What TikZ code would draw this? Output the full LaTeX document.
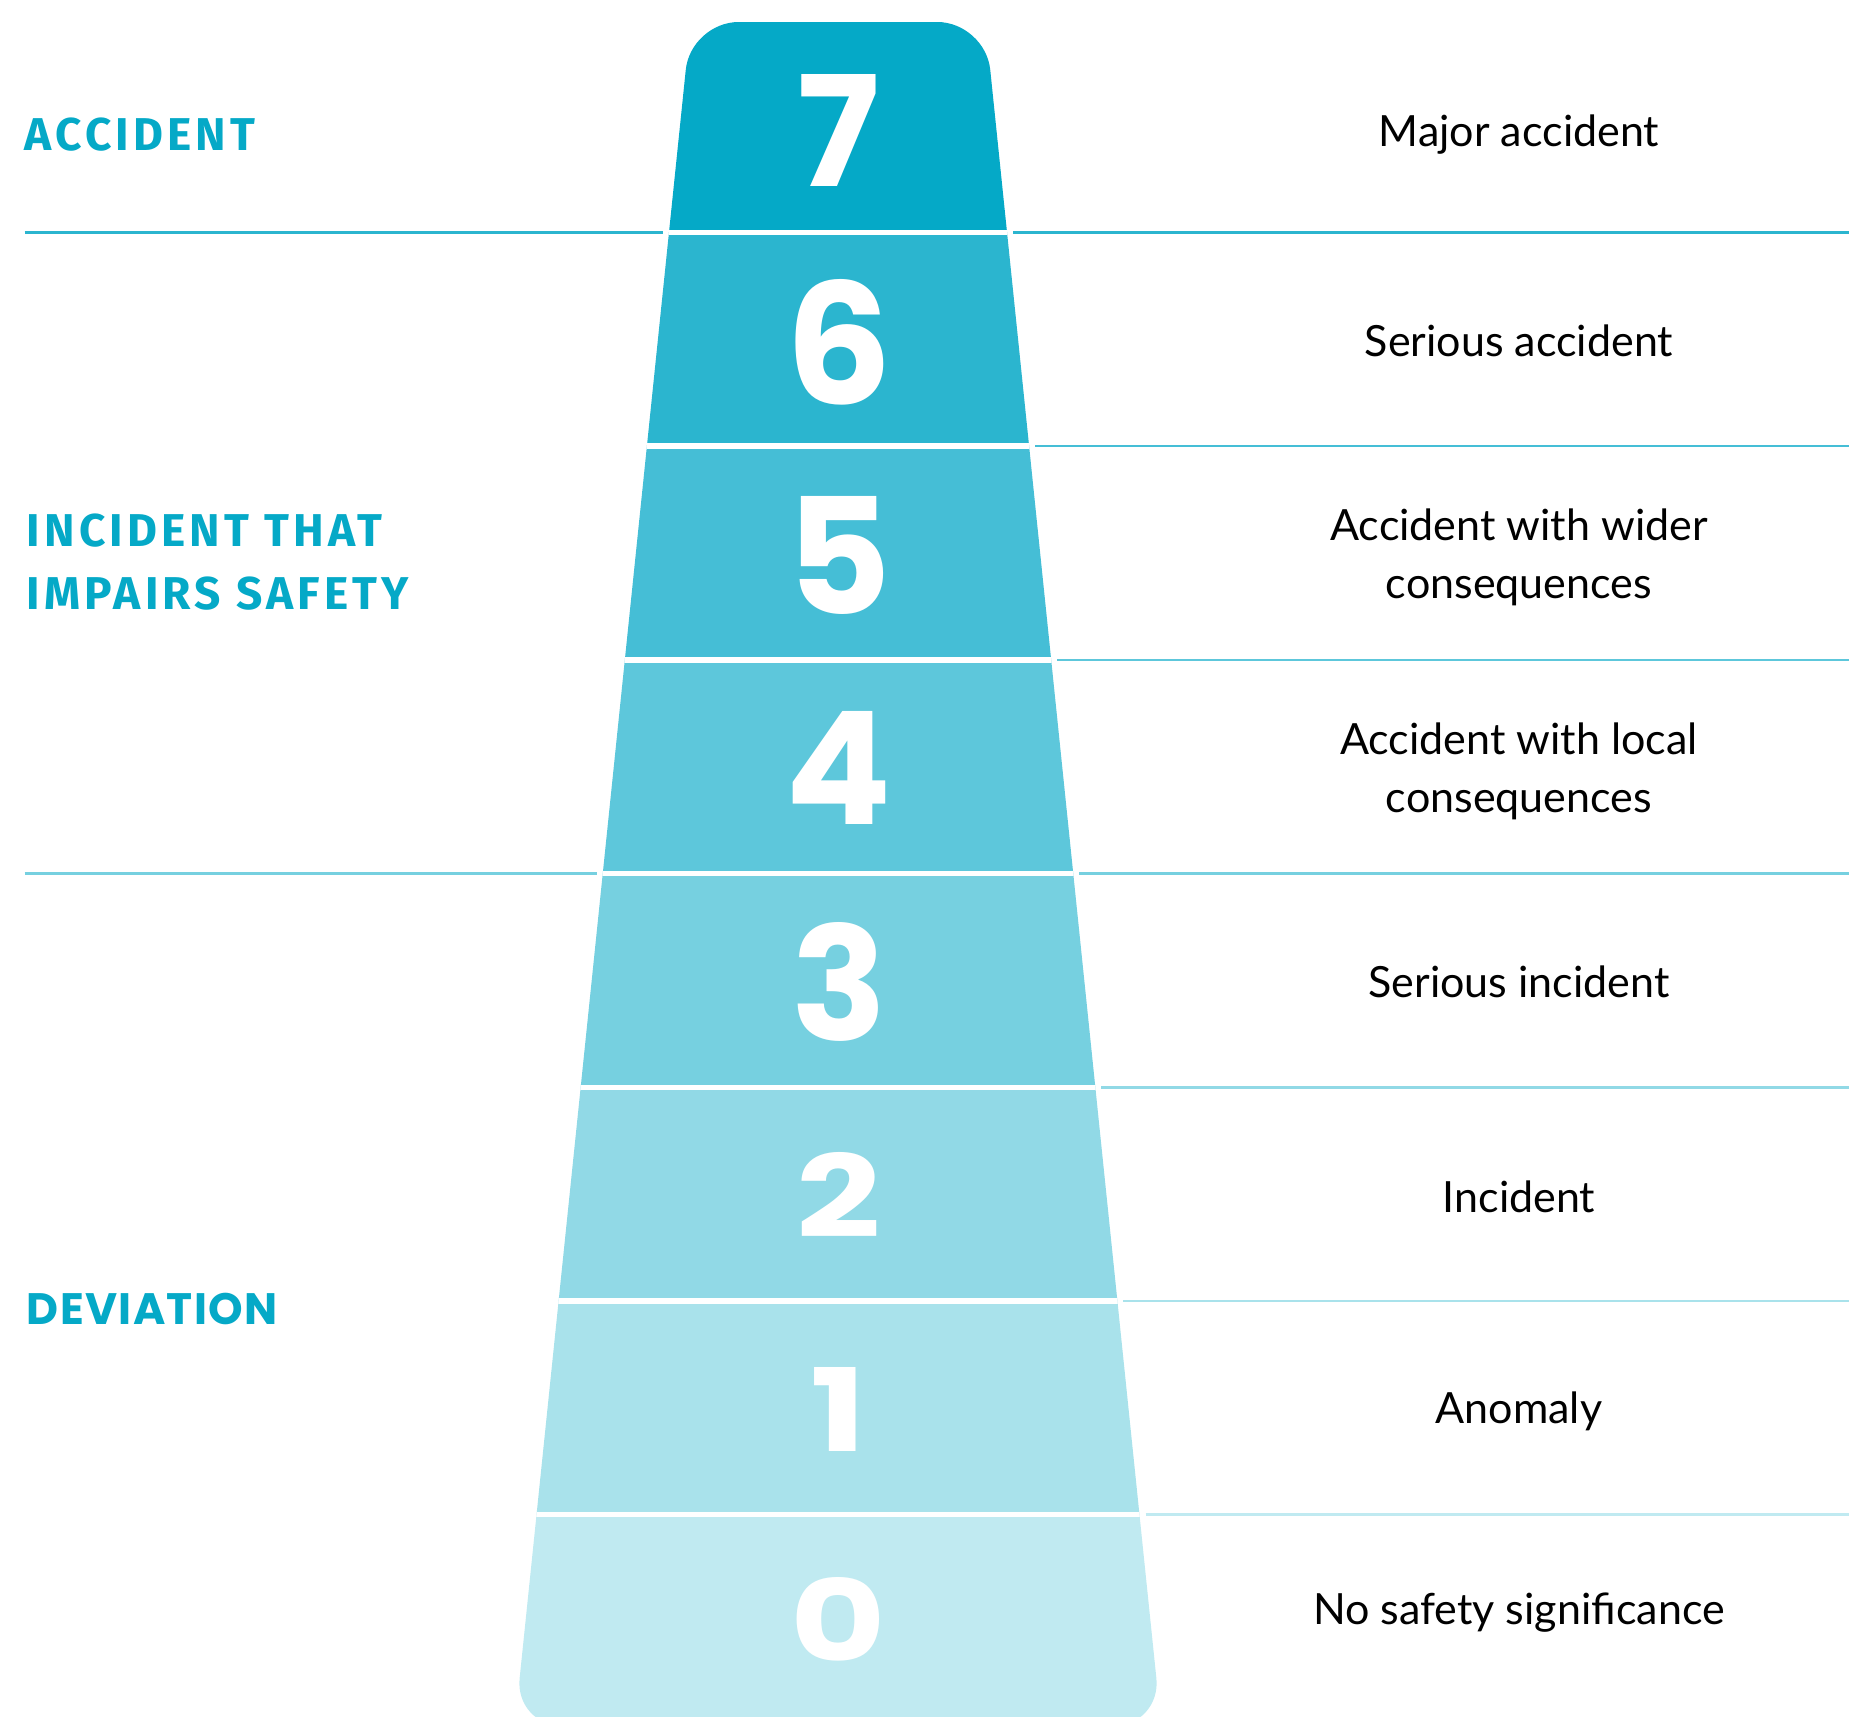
\documentclass[tikz,border=0pt]{standalone}
\usepackage{fontspec}
\usepackage{graphicx}
\setmainfont{Lato}
\newfontfamily\numfont{Poppins}
\newfontfamily\headfont{Fira Sans}[LetterSpace=9]
\newfontfamily\devfont{Poppins}[LetterSpace=3]
\definecolor{c7}{HTML}{05A9C7}
\definecolor{c6}{HTML}{2BB5CF}
\definecolor{c5}{HTML}{45BED6}
\definecolor{c4}{HTML}{5DC7DB}
\definecolor{c3}{HTML}{76D0E0}
\definecolor{c2}{HTML}{91D9E6}
\definecolor{c1}{HTML}{A9E2EB}
\definecolor{c0}{HTML}{C0EAF1}
\begin{document}
\begin{tikzpicture}[x=1pt,y=-1pt,
  num/.style={inner sep=0pt,text=white,font=\numfont\bfseries},
  lab/.style={inner sep=0pt,anchor=base,text=black,font=\fontsize{43}{50}\selectfont},
  head/.style={inner sep=0pt,anchor=base west,text=c7,font=\headfont\bfseries\fontsize{46}{54}\selectfont},
  dev/.style={inner sep=0pt,anchor=base west,text=c7,font=\devfont\bfseries\fontsize{44}{52}\selectfont},
  sep/.style={line width=2.5pt}]
\useasboundingbox (0,0) rectangle (1849,1716);
\begin{scope}
\clip[rounded corners=48pt] (690.7,22) -- (985.3,22) -- (1161.3,1726) -- (514.7,1726) -- cycle;
\fill[c7] (400,0) rectangle (1300,232.5);
\fill[c6] (400,232.5) rectangle (1300,446.2);
\fill[c5] (400,446.2) rectangle (1300,659.9);
\fill[c4] (400,659.9) rectangle (1300,873.6);
\fill[c3] (400,873.6) rectangle (1300,1087.3);
\fill[c2] (400,1087.3) rectangle (1300,1301.0);
\fill[c1] (400,1301.0) rectangle (1300,1514.7);
\fill[c0] (400,1514.7) rectangle (1300,1800);
\foreach \y in {232.5,446.2,659.9,873.6,1087.3,1301.0,1514.7}
  \draw[white,line width=5.5pt] (400,\y) -- (1300,\y);
\end{scope}
% separator lines
\draw[sep,c6] (24.5,232.5) -- (663,232.5);
\draw[sep,c6] (1013,232.5) -- (1849,232.5);
\draw[sep,c5] (1035.1,446.2) -- (1849,446.2);
\draw[sep,c4] (1057.2,659.9) -- (1849,659.9);
\draw[sep,c3] (24.5,873.6) -- (596.8,873.6);
\draw[sep,c3] (1079.2,873.6) -- (1849,873.6);
\draw[sep,c2] (1101.3,1087.3) -- (1849,1087.3);
\draw[sep,c1] (1123.4,1301.0) -- (1849,1301.0);
\draw[sep,c0] (1145.5,1514.7) -- (1849,1514.7);
% numbers
\node[num] (n7) at (839,130) {\resizebox{!}{112pt}{7}};
\node[num] (n6) at (839,342) {\resizebox{!}{125pt}{6}};
\node[num] (n5) at (839,555) {\resizebox{!}{118pt}{5}};
\node[num] (n4) at (839,768) {\resizebox{!}{113pt}{4}};
\node[num] (n3) at (839,982) {\resizebox{!}{118pt}{3}};
\node[num] (n2) at (839,1195) {\scalebox{1.3}[1]{\resizebox{!}{85pt}{2}}};
\node[num] (n1) at (839,1409) {\scalebox{1.3}[1]{\resizebox{!}{84pt}{1}}};
\node[num] (n0) at (838,1619) {\scalebox{1.3}[1]{\resizebox{!}{84pt}{0}}};
% right labels
\node[lab] (l7) at (1519,146) {Major accident};
\node[lab] (l6) at (1519,356) {Serious accident};
\node[lab] (l5a) at (1519,540.7) {Accident with wider};
\node[lab] (l5b) at (1519,598) {consequences};
\node[lab] (l4a) at (1519,754.5) {Accident with local};
\node[lab] (l4b) at (1519,812) {consequences};
\node[lab] (l3) at (1519,997) {Serious incident};
\node[lab] (l2) at (1519,1212) {Incident};
\node[lab] (l1) at (1519,1423.3) {Anomaly};
\node[lab] (l0) at (1519,1624.3) {No safety significance};
% left labels
\node[head] (h1) at (24.5,150) {ACCIDENT};
\node[head] (h2a) at (26.8,546) {INCIDENT THAT};
\node[head] (h2b) at (26.8,609) {IMPAIRS SAFETY};
\node[dev] (h3) at (26.7,1324) {DEVIATION};
\end{tikzpicture}
\end{document}
